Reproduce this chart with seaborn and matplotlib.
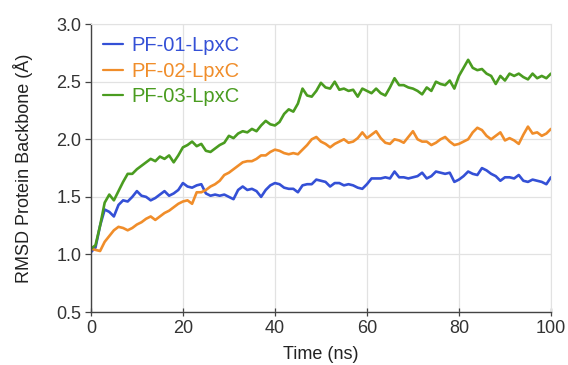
import numpy as np
import pandas as pd
import matplotlib
matplotlib.use("Agg")
import matplotlib.pyplot as plt
import seaborn as sns

# RMSD of protein backbone over 100 ns at 1 ns steps
time_ns = list(range(0, 101))

rmsd_pf01 = [1.02, 1.06, 1.25, 1.39, 1.37, 1.33, 1.43, 1.47, 1.46, 1.50,
             1.55, 1.51, 1.50, 1.47, 1.49, 1.52, 1.55, 1.51, 1.53, 1.56,
             1.62, 1.59, 1.58, 1.60, 1.61, 1.53, 1.51, 1.52, 1.51, 1.52,
             1.50, 1.48, 1.56, 1.59, 1.56, 1.57, 1.55, 1.50, 1.56, 1.60,
             1.62, 1.61, 1.58, 1.57, 1.57, 1.54, 1.60, 1.61, 1.61, 1.65,
             1.64, 1.63, 1.59, 1.62, 1.62, 1.60, 1.61, 1.60, 1.58, 1.57,
             1.61, 1.66, 1.66, 1.66, 1.67, 1.66, 1.72, 1.67, 1.67, 1.66,
             1.67, 1.68, 1.71, 1.66, 1.68, 1.72, 1.71, 1.70, 1.71, 1.63,
             1.65, 1.68, 1.72, 1.70, 1.69, 1.75, 1.73, 1.70, 1.68, 1.64,
             1.67, 1.67, 1.66, 1.69, 1.64, 1.63, 1.65, 1.64, 1.63, 1.61,
             1.67]

rmsd_pf02 = [1.05, 1.04, 1.03, 1.11, 1.16, 1.21, 1.24, 1.23, 1.21, 1.23,
             1.26, 1.28, 1.31, 1.33, 1.30, 1.33, 1.36, 1.38, 1.41, 1.44,
             1.46, 1.47, 1.44, 1.54, 1.54, 1.56, 1.59, 1.61, 1.64, 1.69,
             1.71, 1.74, 1.77, 1.80, 1.81, 1.81, 1.83, 1.86, 1.86, 1.89,
             1.91, 1.90, 1.88, 1.87, 1.88, 1.87, 1.91, 1.95, 2.00, 2.02,
             1.98, 1.96, 1.93, 1.96, 1.98, 2.00, 1.97, 1.98, 2.01, 2.06,
             2.01, 2.04, 2.07, 2.01, 1.97, 1.96, 2.00, 1.99, 1.97, 2.02,
             2.07, 2.00, 1.98, 1.98, 1.95, 1.97, 2.00, 2.02, 1.98, 1.95,
             1.96, 1.98, 2.00, 2.06, 2.10, 2.08, 2.03, 2.00, 2.03, 2.06,
             1.99, 2.01, 1.99, 1.96, 2.04, 2.11, 2.05, 2.06, 2.03, 2.05,
             2.09]

rmsd_pf03 = [1.05, 1.08, 1.25, 1.45, 1.52, 1.47, 1.55, 1.63, 1.70, 1.70,
             1.74, 1.77, 1.80, 1.83, 1.81, 1.85, 1.83, 1.86, 1.80, 1.86,
             1.93, 1.95, 1.98, 1.94, 1.96, 1.90, 1.89, 1.92, 1.95, 1.97,
             2.03, 2.01, 2.05, 2.07, 2.06, 2.09, 2.07, 2.12, 2.16, 2.13,
             2.12, 2.15, 2.22, 2.26, 2.24, 2.31, 2.44, 2.38, 2.37, 2.42,
             2.49, 2.45, 2.44, 2.50, 2.43, 2.44, 2.42, 2.43, 2.37, 2.44,
             2.42, 2.40, 2.44, 2.40, 2.38, 2.45, 2.53, 2.47, 2.47, 2.45,
             2.44, 2.42, 2.39, 2.45, 2.42, 2.50, 2.48, 2.47, 2.51, 2.44,
             2.55, 2.62, 2.69, 2.62, 2.60, 2.61, 2.57, 2.55, 2.48, 2.55,
             2.51, 2.57, 2.55, 2.57, 2.54, 2.52, 2.57, 2.53, 2.55, 2.53,
             2.57]

systems = ['PF-01-LpxC', 'PF-02-LpxC', 'PF-03-LpxC']
colors = ['#3450d6', '#f08d2a', '#4a9c20']

df = pd.DataFrame({
    'time': time_ns * 3,
    'rmsd': rmsd_pf01 + rmsd_pf02 + rmsd_pf03,
    'system': [s for s in systems for _ in time_ns],
})

sns.set_style('white')
plt.rcParams['font.family'] = ['Liberation Sans', 'DejaVu Sans']

fig = plt.figure(figsize=(5.68, 3.65), dpi=100)
ax = fig.add_axes([0.160, 0.145, 0.810, 0.789])

sns.lineplot(data=df, x='time', y='rmsd', hue='system', hue_order=systems,
             palette=colors, linewidth=1.9, ax=ax, legend=True)

ax.set_xlim(0, 100)
ax.set_ylim(0.5, 3.0)
ax.set_xticks([0, 20, 40, 60, 80, 100])
ax.set_yticks([0.5, 1.0, 1.5, 2.0, 2.5, 3.0])
ax.set_yticklabels(['0.5', '1.0', '1.5', '2.0', '2.5', '3.0'])
ax.grid(True, color='#e2e2e2', linewidth=0.9)
ax.set_axisbelow(True)

for side in ['top', 'right']:
    ax.spines[side].set_color('#e2e2e2')
for side in ['left', 'bottom']:
    ax.spines[side].set_color('#444444')
    ax.spines[side].set_linewidth(1.0)

ax.tick_params(axis='both', length=4, width=0.9, color='#444444',
               labelsize=13, labelcolor='#333333', left=True, bottom=True,
               pad=3)
ax.tick_params(axis='x', direction='inout', length=6)
ax.tick_params(axis='y', direction='out')
ax.set_xlabel('Time (ns)', fontsize=13, color='#222222', labelpad=6)
ax.set_ylabel('RMSD Protein Backbone (Å)', fontsize=13, color='#222222',
              labelpad=17)

leg = ax.legend(loc='upper left', frameon=False, fontsize=14.5,
                handlelength=1.0, handletextpad=0.4, labelspacing=0.33,
                borderaxespad=0.2, bbox_to_anchor=(0.0, 1.0))
for text, c in zip(leg.get_texts(), colors):
    text.set_color(c)
for line in leg.get_lines():
    line.set_linewidth(1.6)

fig.savefig('out.png', dpi=100)
